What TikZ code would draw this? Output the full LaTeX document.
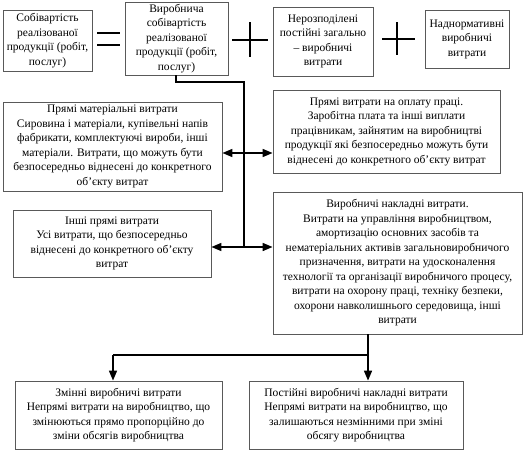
\documentclass[tikz,border=0pt]{standalone}
\usepackage{fontspec}
\setmainfont{Liberation Serif}
\newfontfamily\boxfont{Liberation Serif}
\usetikzlibrary{arrows.meta}

\tikzset{
  box/.style={draw=black!65, line width=0.8pt, align=center, inner sep=1pt,
    font=\boxfont\fontsize{11.5}{14.5}\selectfont},
  link/.style={line width=1.6pt},
  tip/.style={-{Triangle[length=10pt, width=8pt]}},
  sign/.style={line width=2.2pt}
}

\begin{document}
\begin{tikzpicture}[x=1pt, y=-1pt]
    \useasboundingbox (0,0) rectangle (524,453);

    % Nodes
    \node[box, minimum width=89pt, minimum height=61pt] at (47.5, 40.5) (a) {Собівартість\\реалізованої\\продукції (робіт,\\послуг)};
    \node[box, minimum width=103pt, minimum height=73pt] at (176.5, 38.5) (b) {Виробнича\\собівартість\\реалізованої\\продукції (робіт,\\послуг)};
    \node[box, minimum width=100pt, minimum height=69pt] at (323, 41.5) (c) {Нерозподілені\\постійні загально\\– виробничі\\витрати};
    \node[box, minimum width=84pt, minimum height=58pt] at (467, 39) (d) {Наднормативні\\виробничі\\витрати};

    \node[box, minimum width=219pt, minimum height=89pt] at (112.5, 146.5) (e) {Прямі матеріальні витрати\\Сировина і матеріали, купівельні напів\\фабрикати, комплектуючі вироби, інші\\матеріали. Витрати, що можуть бути\\безпосередньо віднесені до конкретного\\об’єкту витрат};
    \node[box, minimum width=227pt, minimum height=83pt] at (386.5, 131.5) (f) {Прямі витрати на оплату праці.\\Заробітна плата та інші виплати\\працівникам, зайнятим на виробництві\\продукції які безпосередньо можуть бути\\віднесені до конкретного об’єкту витрат};
    \node[box, minimum width=198pt, minimum height=67pt] at (112, 243.5) (h) {Інші прямі витрати\\Усі витрати, що безпосередньо\\віднесені до конкретного об’єкту\\витрат};
    \node[box, minimum width=249pt, minimum height=142pt] at (397.5, 263) (g) {Виробничі накладні витрати.\\Витрати на управління виробництвом,\\амортизацію основних засобів та\\нематеріальних активів загальновиробничого\\призначення, витрати на удосконалення\\технології та організації виробничого процесу,\\витрати на охорону праці, техніку безпеки,\\охорони навколишнього середовища, інші\\витрати};

    \node[box, minimum width=207pt, minimum height=68pt] at (118.5, 415) (i) {Змінні виробничі витрати\\Непрямі витрати на виробництво, що\\змінюються прямо пропорційно до\\зміни обсягів виробництва};
    \node[box, minimum width=214pt, minimum height=68pt] at (356, 415) (j) {Постійні виробничі накладні витрати\\Непрямі витрати на виробництво, що\\залишаються незмінними при зміні\\обсягу виробництва};

    % Signs
    \foreach \y in {33, 45}
      \draw[sign] (97,\y) -- (120,\y);
    \draw[sign] (232,40) -- (268,40);
    \draw[sign] (250,22) -- (250,57);
    \draw[sign] (382,39) -- (415,39);
    \draw[sign] (397,22) -- (397,55);

    % Connectors
    \coordinate (bend) at (176, 82);
    \coordinate (s1) at (244, 153);
    \coordinate (s2) at (244, 247);
    \coordinate (split) at (368, 355);
    \coordinate (left) at (113, 355);

    \draw[link] (b.south -| bend) -- (bend) -| (s2);
    \draw[link, tip] (s1) -- (s1 -| e.east);
    \draw[link, tip] (s1) -- (s1 -| f.west);
    \draw[link, tip] (s2) -- (s2 -| h.east);
    \draw[link, tip] (s2) -- (s2 -| g.west);

    \draw[link] (g.south -| split) -- (split) -- (left);
    \draw[link, tip] (left) -- (left |- i.north);
    \draw[link, tip] (split) -- (split |- j.north);
  \end{tikzpicture}
\end{document}
